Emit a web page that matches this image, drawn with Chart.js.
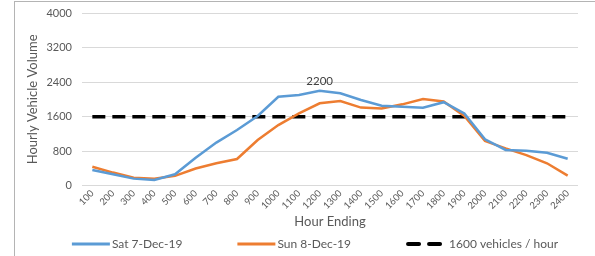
<!DOCTYPE html>
<html>
<head>
<meta charset="utf-8">
<script src="https://cdn.jsdelivr.net/npm/chart.js@4/dist/chart.umd.min.js"></script>
<style>
  html, body { margin: 0; padding: 0; background: #fff; }
  body { width: 595px; height: 256px; overflow: hidden; position: relative; }
  #frame { position: absolute; left: 14px; top: 1px; width: 600px; height: 300px;
           border-left: 1px solid #b4b4b4; border-top: 1px solid #b4b4b4; }
  #wrap { position: absolute; left: 15px; top: 2px; width: 580px; height: 254px; }
</style>
</head>
<body>
<div id="frame"></div>
<div id="wrap"><canvas id="c" width="580" height="254"></canvas></div>
<script>
const categories = ["100","200","300","400","500","600","700","800","900","1000","1100","1200",
  "1300","1400","1500","1600","1700","1800","1900","2000","2100","2200","2300","2400"];
const satValues = [365, 265, 165, 135, 265, 650, 1000, 1290, 1615, 2060, 2100, 2200,
  2140, 1985, 1855, 1830, 1805, 1935, 1675, 1075, 830, 810, 765, 625];
const sunValues = [440, 305, 185, 165, 230, 400, 520, 620, 1060, 1405, 1675, 1910,
  1960, 1810, 1790, 1885, 2010, 1950, 1615, 1035, 865, 710, 520, 235];
const thresholdValue = 1600;
const thresholdValues = categories.map(() => thresholdValue);
const yTicks = [0, 800, 1600, 2400, 3200, 4000];
const seriesNames = ["Sat 7-Dec-19", "Sun 8-Dec-19", "1600 vehicles / hour"];
const peakLabelIndex = 11;

const FONT = "Lato, 'Liberation Sans', sans-serif";
const GREY = "#595959";

const peakLabel = {
  id: "peakLabel",
  afterDatasetsDraw(chart) {
    const meta = chart.getDatasetMeta(0);
    const pt = meta.data[peakLabelIndex];
    const ctx = chart.ctx;
    ctx.save();
    ctx.font = "11.5px " + FONT;
    ctx.fillStyle = "#404040";
    ctx.textAlign = "center";
    ctx.textBaseline = "bottom";
    ctx.fillText(String(satValues[peakLabelIndex]), pt.x, pt.y - 4);
    ctx.restore();
  }
};

const lineLegend = {
  id: "lineLegend",
  afterDraw(chart) {
    const ctx = chart.ctx;
    const ds = chart.data.datasets;
    const fontPx = 12, gap = 55, y = 242;
    ctx.save();
    ctx.font = fontPx + "px " + FONT;
    const items = ds.map(d => {
      const dashed = Array.isArray(d.borderDash) && d.borderDash.length > 0;
      const sw = dashed ? 34 : 38;
      const tg = dashed ? 9 : 2;
      return { d, dashed, sw, tg, tw: ctx.measureText(d.label).width };
    });
    const total = items.reduce((s, it) => s + it.sw + it.tg + it.tw, 0) + gap * (items.length - 1);
    let x = chart.width / 2 + 10 - total / 2;
    items.forEach(it => {
      ctx.beginPath();
      ctx.strokeStyle = it.d.borderColor;
      ctx.lineWidth = it.dashed ? 4 : 3;
      ctx.lineCap = it.dashed ? "round" : "butt";
      ctx.setLineDash(it.dashed ? [11, 10] : []);
      ctx.moveTo(x + (it.dashed ? 2 : 0), y);
      ctx.lineTo(x + it.sw, y);
      ctx.stroke();
      ctx.setLineDash([]);
      ctx.fillStyle = GREY;
      ctx.textAlign = "left";
      ctx.textBaseline = "middle";
      ctx.fillText(it.d.label, x + it.sw + it.tg, y);
      x += it.sw + it.tg + it.tw + gap;
    });
    ctx.restore();
  }
};

new Chart(document.getElementById("c"), {
  type: "line",
  data: {
    labels: categories,
    datasets: [
      { label: seriesNames[0], data: satValues, borderColor: "#5B9BD5", backgroundColor: "#5B9BD5",
        borderWidth: 2.5, pointRadius: 0, tension: 0 },
      { label: seriesNames[1], data: sunValues, borderColor: "#ED7D31", backgroundColor: "#ED7D31",
        borderWidth: 2.5, pointRadius: 0, tension: 0 },
      { label: seriesNames[2], data: thresholdValues, borderColor: "#000000", backgroundColor: "#000000",
        borderWidth: 3.5, borderDash: [13, 7], pointRadius: 0, tension: 0 }
    ]
  },
  options: {
    responsive: false,
    animation: false,
    devicePixelRatio: 1,
    layout: { padding: { top: 11, right: 17, left: 0, bottom: 26 } },
    plugins: {
      tooltip: { enabled: false },
      legend: { display: false }
    },
    scales: {
      x: {
        offset: true,
        grid: { display: false, drawTicks: false },
        border: { display: false },
        ticks: { color: GREY, font: { family: FONT, size: 9.5 }, maxRotation: 45, minRotation: 45, autoSkip: false, padding: 2 },
        title: { display: true, text: "Hour Ending", color: GREY, font: { family: FONT, size: 13 }, padding: { top: 1, bottom: 0 } }
      },
      y: {
        min: 0, max: 4000,
        afterBuildTicks(scale) { scale.ticks = yTicks.map(v => ({ value: v })); },
        afterFit(scale) { scale.width = 67; scale.paddingTop = 0; scale.paddingBottom = 0; },
        grid: { color: "#d9d9d9", lineWidth: 1, drawTicks: false },
        border: { display: false },
        ticks: { color: GREY, font: { family: FONT, size: 11 }, padding: 10, callback: v => String(v) },
        title: { display: true, text: "Hourly Vehicle Volume", color: GREY, font: { family: FONT, size: 13 }, padding: { top: 10, bottom: 0 } }
      }
    }
  },
  plugins: [peakLabel, lineLegend]
});
</script>
</body>
</html>
